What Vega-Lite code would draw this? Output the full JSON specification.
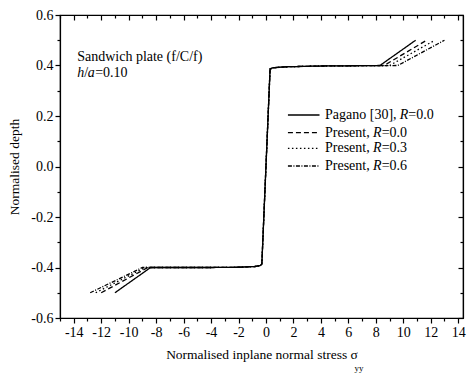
{
  "$schema": "https://vega.github.io/schema/vega-lite/v6.json",
  "width": 403,
  "height": 303,
  "autosize": {"type": "none"},
  "padding": {"left": 60, "top": 15, "right": 4, "bottom": 55},
  "background": "white",
  "config": {
    "font": "Liberation Serif",
    "view": {"stroke": "black", "strokeWidth": 1.2},
    "axis": {
      "domainColor": "black", "tickColor": "black", "labelColor": "black", "titleColor": "black",
      "labelFont": "Liberation Serif", "titleFont": "Liberation Serif",
      "labelFontSize": 14, "titleFontSize": 13.5, "titleFontWeight": "normal",
      "grid": false, "domainWidth": 1.2, "tickWidth": 1.2, "labelOverlap": false, "labelFlush": false
    }
  },
  "datasets": {
    "lines": [
      {"series": "Pagano [30], R=0.0", "s": -11.0, "d": -0.5},
      {"series": "Pagano [30], R=0.0", "s": -8.4, "d": -0.4},
      {"series": "Pagano [30], R=0.0", "s": -4.0, "d": -0.4},
      {"series": "Pagano [30], R=0.0", "s": -2.0, "d": -0.399},
      {"series": "Pagano [30], R=0.0", "s": -0.8, "d": -0.396},
      {"series": "Pagano [30], R=0.0", "s": -0.4, "d": -0.392},
      {"series": "Pagano [30], R=0.0", "s": -0.3, "d": -0.386},
      {"series": "Pagano [30], R=0.0", "s": 0.3, "d": 0.386},
      {"series": "Pagano [30], R=0.0", "s": 0.5, "d": 0.391},
      {"series": "Pagano [30], R=0.0", "s": 1.5, "d": 0.395},
      {"series": "Pagano [30], R=0.0", "s": 4.0, "d": 0.398},
      {"series": "Pagano [30], R=0.0", "s": 8.3, "d": 0.4},
      {"series": "Pagano [30], R=0.0", "s": 10.9, "d": 0.5},

      {"series": "Present, R=0.0", "s": -12.0, "d": -0.5},
      {"series": "Present, R=0.0", "s": -8.6, "d": -0.4},
      {"series": "Present, R=0.0", "s": -4.0, "d": -0.4},
      {"series": "Present, R=0.0", "s": -2.0, "d": -0.399},
      {"series": "Present, R=0.0", "s": -0.8, "d": -0.396},
      {"series": "Present, R=0.0", "s": -0.4, "d": -0.392},
      {"series": "Present, R=0.0", "s": -0.3, "d": -0.386},
      {"series": "Present, R=0.0", "s": 0.3, "d": 0.386},
      {"series": "Present, R=0.0", "s": 0.5, "d": 0.391},
      {"series": "Present, R=0.0", "s": 1.5, "d": 0.395},
      {"series": "Present, R=0.0", "s": 4.0, "d": 0.398},
      {"series": "Present, R=0.0", "s": 8.6, "d": 0.4},
      {"series": "Present, R=0.0", "s": 11.7, "d": 0.5},

      {"series": "Present, R=0.3", "s": -12.4, "d": -0.5},
      {"series": "Present, R=0.3", "s": -8.8, "d": -0.4},
      {"series": "Present, R=0.3", "s": -4.0, "d": -0.4},
      {"series": "Present, R=0.3", "s": -2.0, "d": -0.399},
      {"series": "Present, R=0.3", "s": -0.8, "d": -0.396},
      {"series": "Present, R=0.3", "s": -0.4, "d": -0.392},
      {"series": "Present, R=0.3", "s": -0.3, "d": -0.386},
      {"series": "Present, R=0.3", "s": 0.3, "d": 0.386},
      {"series": "Present, R=0.3", "s": 0.5, "d": 0.391},
      {"series": "Present, R=0.3", "s": 1.5, "d": 0.395},
      {"series": "Present, R=0.3", "s": 4.0, "d": 0.398},
      {"series": "Present, R=0.3", "s": 9.0, "d": 0.4},
      {"series": "Present, R=0.3", "s": 12.3, "d": 0.5},

      {"series": "Present, R=0.6", "s": -12.8, "d": -0.5},
      {"series": "Present, R=0.6", "s": -9.0, "d": -0.4},
      {"series": "Present, R=0.6", "s": -4.0, "d": -0.4},
      {"series": "Present, R=0.6", "s": -2.0, "d": -0.399},
      {"series": "Present, R=0.6", "s": -0.8, "d": -0.396},
      {"series": "Present, R=0.6", "s": -0.4, "d": -0.392},
      {"series": "Present, R=0.6", "s": -0.3, "d": -0.386},
      {"series": "Present, R=0.6", "s": 0.3, "d": 0.386},
      {"series": "Present, R=0.6", "s": 0.5, "d": 0.391},
      {"series": "Present, R=0.6", "s": 1.5, "d": 0.395},
      {"series": "Present, R=0.6", "s": 4.0, "d": 0.398},
      {"series": "Present, R=0.6", "s": 9.6, "d": 0.4},
      {"series": "Present, R=0.6", "s": 13.0, "d": 0.5}
    ],
    "leg": [
      {"series": "Pagano [30], R=0.0", "s": 1.6, "s2": 3.9, "d": 0.204},
      {"series": "Present, R=0.0", "s": 1.6, "s2": 3.9, "d": 0.134},
      {"series": "Present, R=0.3", "s": 1.6, "s2": 3.9, "d": 0.072},
      {"series": "Present, R=0.6", "s": 1.6, "s2": 3.9, "d": 0.002}
    ],
    "normal": [
      {"s": -13.75, "d": 0.434, "t": "Sandwich plate (f/C/f)"},
      {"s": -13.24, "d": 0.372, "t": "/"},
      {"s": -12.44, "d": 0.372, "t": "=0.10"},
      {"s": 4.3, "d": 0.204, "t": "Pagano [30],"},
      {"s": 10.37, "d": 0.204, "t": "=0.0"},
      {"s": 4.3, "d": 0.134, "t": "Present,"},
      {"s": 8.43, "d": 0.134, "t": "=0.0"},
      {"s": 4.3, "d": 0.072, "t": "Present,"},
      {"s": 8.43, "d": 0.072, "t": "=0.3"},
      {"s": 4.3, "d": 0.002, "t": "Present,"},
      {"s": 8.43, "d": 0.002, "t": "=0.6"}
    ],
    "italic": [
      {"s": -13.75, "d": 0.372, "t": "h"},
      {"s": -12.98, "d": 0.372, "t": "a"},
      {"s": 9.75, "d": 0.204, "t": "R"},
      {"s": 7.8, "d": 0.134, "t": "R"},
      {"s": 7.8, "d": 0.072, "t": "R"},
      {"s": 7.8, "d": 0.002, "t": "R"}
    ],
    "sub": [
      {"s": 6.45, "d": -0.6, "t": "yy"}
    ]
  },
  "layer": [
    {
      "data": {"name": "lines"},
      "mark": {"type": "point", "opacity": 0},
      "encoding": {
        "x": {"field": "s", "type": "quantitative", "scale": {"domain": [-15, 14.35], "nice": false, "zero": false},
          "axis": {"orient": "bottom", "values": [-15,-13,-11,-9,-7,-5,-3,-1,1,3,5,7,9,11,13], "tickSize": 3, "labels": false, "domain": false, "title": null}},
        "y": {"field": "d", "type": "quantitative", "scale": {"domain": [-0.6, 0.6], "nice": false, "zero": false},
          "axis": {"orient": "left", "values": [-0.5,-0.3,-0.1,0.1,0.3,0.5], "tickSize": 3, "labels": false, "domain": false, "title": null}}
      }
    },
    {
      "data": {"name": "lines"},
      "mark": {"type": "point", "opacity": 0},
      "encoding": {
        "x": {"field": "s", "type": "quantitative", "scale": {"domain": [-15, 14.35], "nice": false, "zero": false},
          "axis": {"orient": "top", "values": [-14,-12,-10,-8,-6,-4,-2,0,2,4,6,8,10,12,14], "tickSize": -5, "labels": false, "title": null}},
        "y": {"field": "d", "type": "quantitative", "scale": {"domain": [-0.6, 0.6], "nice": false, "zero": false},
          "axis": {"orient": "right", "values": [-0.6,-0.4,-0.2,0,0.2,0.4,0.6], "tickSize": -5, "labels": false, "title": null}}
      }
    },
    {
      "data": {"name": "lines"},
      "mark": {"type": "point", "opacity": 0},
      "encoding": {
        "x": {"field": "s", "type": "quantitative", "scale": {"domain": [-15, 14.35], "nice": false, "zero": false},
          "axis": {"orient": "top", "values": [-15,-13,-11,-9,-7,-5,-3,-1,1,3,5,7,9,11,13], "tickSize": -3, "labels": false, "domain": false, "title": null}},
        "y": {"field": "d", "type": "quantitative", "scale": {"domain": [-0.6, 0.6], "nice": false, "zero": false},
          "axis": {"orient": "right", "values": [-0.5,-0.3,-0.1,0.1,0.3,0.5], "tickSize": -3, "labels": false, "domain": false, "title": null}}
      }
    },
    {
      "data": {"name": "lines"},
      "mark": {"type": "line", "color": "black", "strokeWidth": 1.3, "clip": true},
      "encoding": {
        "x": {"field": "s", "type": "quantitative", "scale": {"domain": [-15, 14.35], "nice": false, "zero": false},
          "axis": {"orient": "bottom", "values": [-14,-12,-10,-8,-6,-4,-2,0,2,4,6,8,10,12,14], "tickSize": 5, "labelPadding": 2,
            "labelExpr": "'' + datum.value",
            "title": "Normalised inplane normal stress σ", "titlePadding": 8}},
        "y": {"field": "d", "type": "quantitative", "scale": {"domain": [-0.6, 0.6], "nice": false, "zero": false},
          "axis": {"orient": "left", "values": [-0.6,-0.4,-0.2,0,0.2,0.4,0.6], "tickSize": 5, "labelPadding": 2,
            "labelExpr": "replace(format(datum.value, '.1f'), '\u2212', '-')",
            "title": "Normalised depth", "titlePadding": 9}},
        "strokeDash": {"field": "series", "type": "nominal",
          "scale": {"domain": ["Pagano [30], R=0.0", "Present, R=0.0", "Present, R=0.3", "Present, R=0.6"],
                    "range": [[1, 0], [5, 3], [1.5, 2.5], [4, 1.5, 1, 1.5]]},
          "legend": null}
      }
    },
    {
      "data": {"name": "leg"},
      "mark": {"type": "rule", "color": "black", "strokeWidth": 1.3},
      "encoding": {
        "x": {"field": "s", "type": "quantitative", "scale": {"domain": [-15, 14.35], "nice": false, "zero": false}, "axis": null},
        "x2": {"field": "s2"},
        "y": {"field": "d", "type": "quantitative", "scale": {"domain": [-0.6, 0.6], "nice": false, "zero": false}, "axis": null},
        "strokeDash": {"field": "series", "type": "nominal", "legend": null}
      }
    },
    {
      "data": {"name": "normal"},
      "mark": {"type": "text", "align": "left", "baseline": "middle", "font": "Liberation Serif", "fontSize": 14, "color": "black"},
      "encoding": {
        "x": {"field": "s", "type": "quantitative", "scale": {"domain": [-15, 14.35], "nice": false, "zero": false}, "axis": null},
        "y": {"field": "d", "type": "quantitative", "scale": {"domain": [-0.6, 0.6], "nice": false, "zero": false}, "axis": null},
        "text": {"field": "t"}
      }
    },
    {
      "data": {"name": "italic"},
      "mark": {"type": "text", "align": "left", "baseline": "middle", "font": "Liberation Serif", "fontStyle": "italic", "fontSize": 14, "color": "black"},
      "encoding": {
        "x": {"field": "s", "type": "quantitative", "scale": {"domain": [-15, 14.35], "nice": false, "zero": false}, "axis": null},
        "y": {"field": "d", "type": "quantitative", "scale": {"domain": [-0.6, 0.6], "nice": false, "zero": false}, "axis": null},
        "text": {"field": "t"}
      }
    },
    {
      "data": {"name": "sub"},
      "mark": {"type": "text", "align": "left", "baseline": "middle", "font": "Liberation Serif", "fontSize": 9, "color": "black", "dy": 50},
      "encoding": {
        "x": {"field": "s", "type": "quantitative", "scale": {"domain": [-15, 14.35], "nice": false, "zero": false}, "axis": null},
        "y": {"field": "d", "type": "quantitative", "scale": {"domain": [-0.6, 0.6], "nice": false, "zero": false}, "axis": null},
        "text": {"field": "t"}
      }
    }
  ],
  "resolve": {"axis": {"x": "independent", "y": "independent"}}
}
